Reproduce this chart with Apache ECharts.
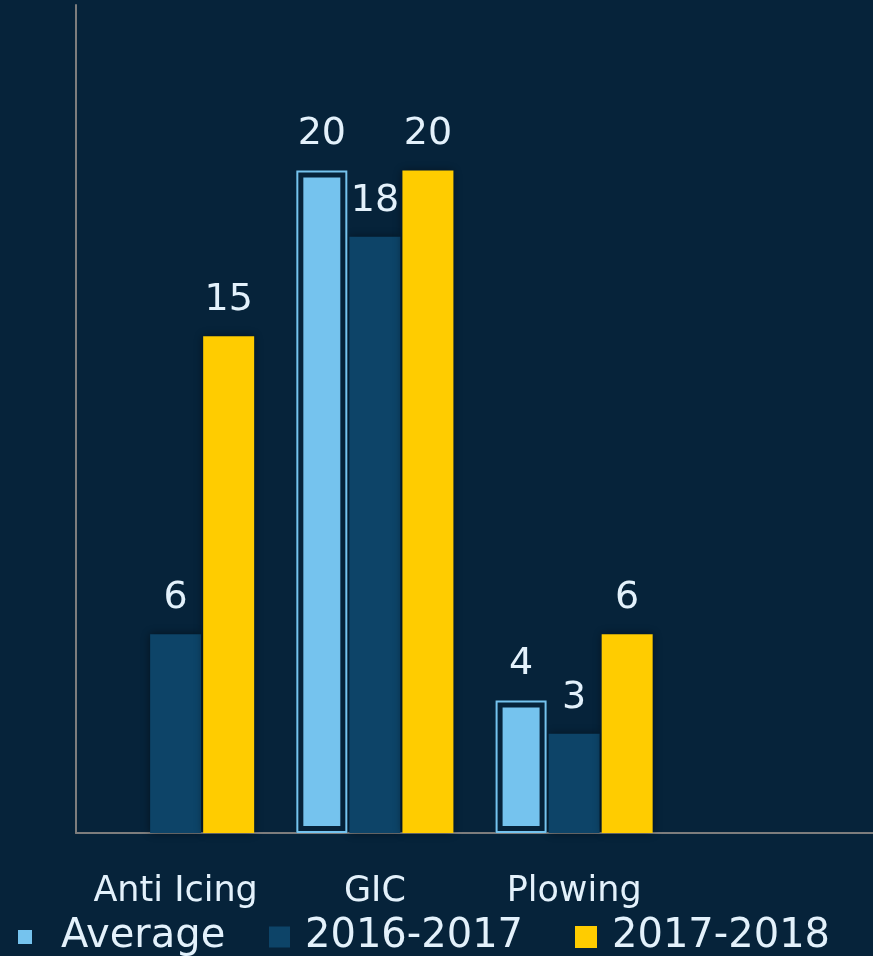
<!DOCTYPE html>
<html>
<head>
<meta charset="utf-8">
<script src="https://cdn.jsdelivr.net/npm/echarts@6/dist/echarts.min.js"></script>
<style>
html,body{margin:0;padding:0;background:#06233a;}
#chart{width:873px;height:956px;}
</style>
</head>
<body>
<div id="chart"></div>
<script>
var categories = ['Anti Icing', 'GIC', 'Plowing', ''];
var averageValues = [null, 20, 4, null];
var values2016 = [6, 18, 3, null];
var values2018 = [15, 20, 6, null];
var seriesNames = ['Average', '2016-2017', '2017-2018'];

var BG = '#06233a';
var TXT = '#e3f1fb';
var FONT = 'DejaVu Sans';
var C_AVG = '#75c3ee', C_16 = '#0d4468', C_18 = '#ffcc00';
var BW = 51, GAP = '4%';
var shadow = {shadowBlur: 8, shadowColor: 'rgba(0,0,0,0.45)'};
var valueLabel = {show: true, position: 'top', distance: 17, color: TXT, fontFamily: FONT, fontSize: 38};

function legendAt(name, left, size, pad) {
  return {
    data: [name], left: left, top: 910, icon: 'rect', padding: 5,
    itemWidth: size, itemHeight: size, selectedMode: false,
    itemStyle: {borderWidth: 0, shadowBlur: 0},
    textStyle: {color: TXT, fontFamily: FONT, fontSize: 40, lineHeight: 44, padding: [0, 0, 0, pad]}
  };
}

var chart = echarts.init(document.getElementById('chart'));
chart.setOption({
  backgroundColor: BG,
  animation: false,
  grid: {left: 76, right: -3, top: 5, bottom: 123},
  legend: [
    legendAt(seriesNames[0], 13, 14, 24),
    legendAt(seriesNames[1], 264, 21, 10),
    legendAt(seriesNames[2], 570, 22, 10)
  ],
  xAxis: [{
    type: 'category', data: categories,
    axisLine: {lineStyle: {color: '#7d7d7d', width: 2}},
    axisTick: {show: false},
    axisLabel: {color: TXT, fontFamily: FONT, fontSize: 35, lineHeight: 40, margin: 39, interval: 0}
  }, {
    type: 'category', data: categories, show: false
  }],
  yAxis: {
    type: 'value', min: 0, max: 25,
    axisLine: {show: true, lineStyle: {color: '#7d7d7d', width: 2}},
    axisTick: {show: false}, axisLabel: {show: false}, splitLine: {show: false}
  },
  series: [{
    name: seriesNames[0], type: 'bar', data: averageValues, barWidth: BW, barGap: GAP,
    itemStyle: {color: C_AVG, borderColor: BG, borderWidth: 7},
    label: valueLabel, z: 2
  }, {
    name: seriesNames[1], type: 'bar', data: values2016, barWidth: BW, barGap: GAP,
    itemStyle: Object.assign({color: C_16}, shadow), label: valueLabel, z: 3
  }, {
    name: seriesNames[2], type: 'bar', data: values2018, barWidth: BW, barGap: GAP,
    itemStyle: Object.assign({color: C_18}, shadow), label: valueLabel, z: 3
  }, {
    name: 'avg-outline', type: 'bar', xAxisIndex: 1, data: averageValues, barWidth: BW, barGap: GAP,
    itemStyle: {color: 'rgba(0,0,0,0)', borderColor: C_AVG, borderWidth: 2}, silent: true, z: 4
  }, {
    name: 'pad1', type: 'bar', xAxisIndex: 1, data: [null, null, null, null], barWidth: BW, barGap: GAP, silent: true
  }, {
    name: 'pad2', type: 'bar', xAxisIndex: 1, data: [null, null, null, null], barWidth: BW, barGap: GAP, silent: true
  }]
});
</script>
</body>
</html>
